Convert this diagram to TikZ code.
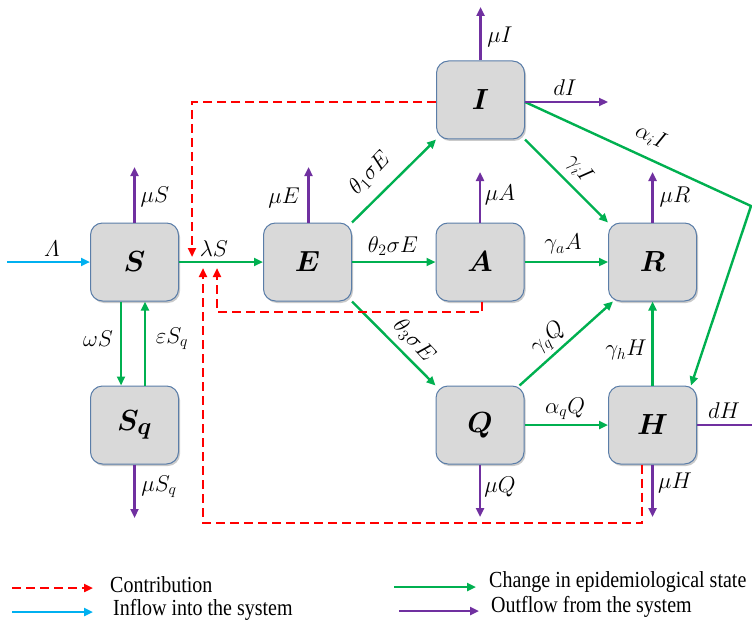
\documentclass[tikz,border=0pt]{standalone}
\usepackage{bm}
\usepackage{fontspec}
\newfontfamily\legendfont{Liberation Serif}
\usetikzlibrary{arrows.meta,shadows,calc}
\definecolor{cgreen}{HTML}{00B050}
\definecolor{cpurple}{HTML}{7030A0}
\definecolor{cred}{HTML}{FF0000}
\definecolor{ccyan}{HTML}{00B0F0}
\definecolor{boxfill}{HTML}{D9D9D9}
\definecolor{boxline}{HTML}{5A7DA8}
\newcommand{\boxlab}[1]{\scalebox{1.17}{$\bm{#1}$}}
\newcommand{\elab}[1]{\scalebox{1.1}{$#1$}}
\tikzset{
  comp/.style={draw=boxline, line width=1pt, fill=boxfill, rounded corners=12pt,
    minimum width=88pt, minimum height=78pt, inner sep=0pt,
    font=\fontsize{24.88}{30}\selectfont,
    drop shadow={shadow xshift=1.5pt, shadow yshift=-2pt, opacity=0.35, fill=black!60}},
  lbl/.style={font=\fontsize{20.74}{24}\selectfont, inner sep=0pt},
  legtext/.style={font=\fontsize{20}{24}\selectfont\legendfont, inner sep=0pt, anchor=west},
  tip/.style={-{Triangle[length=9pt,width=8pt]}},
  stateflow/.style={draw=cgreen, line width=2.4pt, tip},
  outflow/.style={draw=cpurple, line width=2.4pt, tip},
  inflow/.style={draw=ccyan, line width=2.4pt, tip},
  contrib/.style={draw=cred, line width=2.4pt, dash pattern=on 9pt off 5pt, tip}
}
\begin{document}
\begin{tikzpicture}[x=1pt, y=-1pt]
\useasboundingbox (0,0) rectangle (752,623);
\clip (0,0) rectangle (752,623);

% compartments
\node[comp] (S)  at (134.5,262) {\boxlab{S}};
\node[comp] (Sq) at (134.5,425) {\boxlab{S_q}};
\node[comp] (E)  at (307.5,262) {\boxlab{E}};
\node[comp] (I)  at (480.5,100) {\boxlab{I}};
\node[comp] (A)  at (480,262)   {\boxlab{A}};
\node[comp] (R)  at (652.5,262) {\boxlab{R}};
\node[comp] (Q)  at (480,425)   {\boxlab{Q}};
\node[comp] (H)  at (652.5,425) {\boxlab{H}};

% inflow
\coordinate (lamIn) at (7,262);
\draw[inflow] (lamIn) -- (S.west);

% state changes
\draw[stateflow] (S) -- (E);
\draw[stateflow] (E.north east) -- (I.south west);
\draw[stateflow] (E) -- (A);
\draw[stateflow] (E.south east) -- (Q.north west);
\draw[stateflow] (A) -- (R);
\draw[stateflow] (I.south east) -- (R.north west);
\draw[stateflow] ($(Q.north east)+(-5,0)$) -- ($(R.south west)+(5,0)$);
\draw[stateflow] (H) -- (R);
\draw[stateflow] (Q) -- (H);
\coordinate (bend) at (751,206);
\draw[stateflow] ($(I.east)+(0,2)$) -- (bend) -- ($(H.north east)+(-6,0)$);
\draw[stateflow] ($(S.south)+(-13.5,0)$) -- ($(Sq.north)+(-13.5,0)$);
\draw[stateflow] ($(Sq.north)+(10.5,0)$) -- ($(S.south)+(10.5,0)$);

% outflows
\coordinate (oS) at (134.5,167);
\coordinate (oE) at (308.5,167);
\coordinate (oI) at (480.5,7);
\coordinate (oDI) at (608,102);
\coordinate (oA) at (480,172);
\coordinate (oR) at (652.5,172);
\coordinate (oQ) at (480,517);
\coordinate (oH) at (652.5,517);
\coordinate (oDH) at (762,425);
\coordinate (oSq) at (134.5,518);
\draw[outflow] (S.north) -- (oS);
\draw[outflow] ($(E.north)+(1,0)$) -- (oE);
\draw[outflow] (I.north) -- (oI);
\draw[outflow] ($(I.east)+(0,2)$) -- (oDI);
\draw[outflow] (A.north) -- (oA);
\draw[outflow] (R.north) -- (oR);
\draw[outflow] (Q.south) -- (oQ);
\draw[outflow] (H.south) -- (oH);
\draw[outflow] (H.east) -- (oDH);
\draw[outflow] (Sq.south) -- (oSq);

% contributions
\coordinate (cI1) at (192,102);
\coordinate (cI2) at (192,257);
\draw[contrib] ($(I.west)+(0,2)$) -- (cI1) -- (cI2);
\coordinate (cH1) at (642,523);
\coordinate (cH2) at (203,523);
\coordinate (cH3) at (203,268);
\draw[contrib] ($(H.south)+(-10.5,0)$) -- (cH1) -- (cH2) -- (cH3);
\coordinate (cA1) at (482,312);
\coordinate (cA2) at (217,312);
\coordinate (cA3) at (217,268);
\draw[contrib] ($(A.south)+(2,0)$) -- (cA1) -- (cA2) -- (cA3);

% labels
\node[lbl] (lLam) at (52,249) {\elab{\mathnormal{\Lambda}}};
\node[lbl] (lmuS) at (155,197) {\elab{\mu S}};
\node[lbl] (llamS) at (214,249) {\elab{\lambda S}};
\node[lbl] (lmuE) at (284,198) {\elab{\mu E}};
\node[lbl, rotate=47] (lth1) at (370,173) {\elab{\theta_1\sigma E}};
\node[lbl] (lth2) at (393,246) {\elab{\theta_2\sigma E}};
\node[lbl, rotate=-47] (lth3) at (414,341) {\elab{\theta_3\sigma E}};
\node[lbl] (lmuI) at (500,37) {\elab{\mu I}};
\node[lbl] (ldI) at (565,88) {\elab{dI}};
\node[lbl] (lmuA) at (500,195) {\elab{\mu A}};
\node[lbl] (lgaA) at (563,244) {\elab{\gamma_a A}};
\node[lbl, rotate=-52] (lgiI) at (579,169) {\elab{\gamma_i I}};
\node[lbl, rotate=-25] (laiI) at (651,137) {\elab{\alpha_i I}};
\node[lbl] (lmuR) at (675,197) {\elab{\mu R}};
\node[lbl, rotate=40] (lgqQ) at (548,339) {\elab{\gamma_q Q}};
\node[lbl] (lghH) at (626,350) {\elab{\gamma_h H}};
\node[lbl] (laqQ) at (565,409) {\elab{\alpha_q Q}};
\node[lbl] (ldH) at (724,411) {\elab{dH}};
\node[lbl] (lmuQ) at (500,487) {\elab{\mu Q}};
\node[lbl] (lmuH) at (675,483) {\elab{\mu H}};
\node[lbl] (lomS) at (98,339) {\elab{\omega S}};
\node[lbl] (lepS) at (172,339) {\elab{\varepsilon S_q}};
\node[lbl] (lmuSq) at (159,487) {\elab{\mu S_q}};

% legend
\coordinate (k1a) at (12,588);  \coordinate (k1b) at (93,588);
\coordinate (k2a) at (12,612);  \coordinate (k2b) at (93,612);
\coordinate (k3a) at (394,587); \coordinate (k3b) at (476,587);
\coordinate (k4a) at (399,611); \coordinate (k4b) at (479,611);
\draw[contrib] (k1a) -- (k1b);
\draw[inflow] (k2a) -- (k2b);
\draw[stateflow] (k3a) -- (k3b);
\draw[outflow] (k4a) -- (k4b);
\node[legtext] (t1) at (110,585) {\scalebox{1}[1.15]{Contribution}};
\node[legtext] (t2) at (113,610) {\scalebox{1}[1.15]{Inflow into the system}};
\node[legtext] (t3) at (489,582) {\scalebox{1}[1.15]{Change in epidemiological state}};
\node[legtext] (t4) at (491,607) {\scalebox{1}[1.15]{Outflow from the system}};
\end{tikzpicture}
\end{document}
